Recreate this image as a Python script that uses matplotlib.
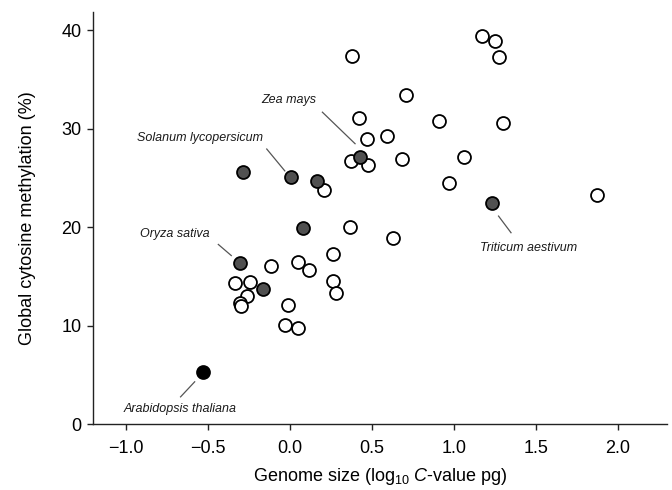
import matplotlib
matplotlib.use("Agg")
from matplotlib import pyplot as plt

plt.rcParams['font.family'] = ['Liberation Sans', 'DejaVu Sans']
plt.rcParams['mathtext.fontset'] = 'custom'
plt.rcParams['mathtext.rm'] = 'Liberation Sans'
plt.rcParams['mathtext.it'] = 'Liberation Sans:italic'

# open circles: other species
open_x = [0.378, 0.423, 0.471, 0.374, 0.475, 0.209, 0.368,
          1.171, 1.250, 1.276, 0.707, 0.910, 1.300, 0.591, 0.683,
          1.061, 0.971, 1.874, 0.632,
          -0.114, 0.051, 0.118, 0.266, -0.335, -0.244, 0.266, 0.284,
          -0.262, -0.305, -0.297, -0.009, -0.029, 0.052]
open_y = [37.4, 31.1, 29.0, 26.7, 26.3, 23.8, 20.0,
          39.4, 38.9, 37.3, 33.4, 30.8, 30.6, 29.3, 26.9,
          27.1, 24.5, 23.3, 18.9,
          16.05, 16.5, 15.7, 17.3, 14.4, 14.5, 14.6, 13.3,
          13.0, 12.3, 12.0, 12.1, 10.1, 9.8]

# grey filled: crops / model species
grey_x = [0.429, -0.283, 0.008, 0.165, 0.079, 1.234, -0.303, -0.163]
grey_y = [27.1, 25.6, 25.1, 24.7, 19.9, 22.5, 16.4, 13.7]

# Arabidopsis
ara_x = [-0.529]
ara_y = [5.3]

# labels: name, text position, leader start, leader end (data units)
labels = [
    ("Zea mays", (-0.004, 32.9), (0.199, 31.7), (0.398, 28.5)),
    ("Solanum lycopersicum", (-0.549, 29.05), (-0.140, 27.96), (-0.030, 25.74)),
    ("Oryza sativa", (-0.699, 19.29), (-0.435, 18.27), (-0.356, 17.14)),
    ("Arabidopsis thaliana", (-0.665, 1.6), (-0.665, 2.79), (-0.579, 4.32)),
    ("Triticum aestivum", (1.455, 17.93), (1.272, 21.15), (1.348, 19.46)),
]

fig = plt.figure(figsize=(6.72, 4.90), dpi=100)
ax = fig.add_axes([0.138, 0.134, 0.855, 0.842])

mk = dict(marker='o', linestyle='none', markersize=9.3,
          markeredgecolor='black', markeredgewidth=1.3)
ax.plot(open_x, open_y, markerfacecolor='white', zorder=3, **mk)
ax.plot(grey_x, grey_y, markerfacecolor='#505050', zorder=4, **mk)
ax.plot(ara_x, ara_y, markerfacecolor='black', zorder=4, **mk)

for name, tpos, p0, p1 in labels:
    ax.text(tpos[0], tpos[1], name, fontsize=9, style='italic',
            ha='center', va='center', color='#1a1a1a')
    ax.plot([p0[0], p1[0]], [p0[1], p1[1]], color='#555555', lw=0.9)

ax.set_xlim(-1.2, 2.3)
ax.set_ylim(0, 41.9)
ax.set_xticks([-1.0, -0.5, 0.0, 0.5, 1.0, 1.5, 2.0])
ax.set_xticklabels(['\u22121.0', '\u22120.5', '0.0', '0.5', '1.0', '1.5', '2.0'])
ax.set_yticks([0, 10, 20, 30, 40])

for s in ['top', 'right']:
    ax.spines[s].set_visible(False)
for s in ['left', 'bottom']:
    ax.spines[s].set_linewidth(1.0)
    ax.spines[s].set_color('#222222')
ax.tick_params(direction='out', length=4, width=1.0, labelsize=13,
               color='#222222', pad=4)
ax.tick_params(axis='x', pad=7)

ax.set_xlabel('Genome size (log$_{10}$ $\\mathit{C}$-value pg)', fontsize=13, labelpad=7)
ax.set_ylabel('Global cytosine methylation (%)', fontsize=13, labelpad=18)

fig.savefig('out.png', dpi=100)
